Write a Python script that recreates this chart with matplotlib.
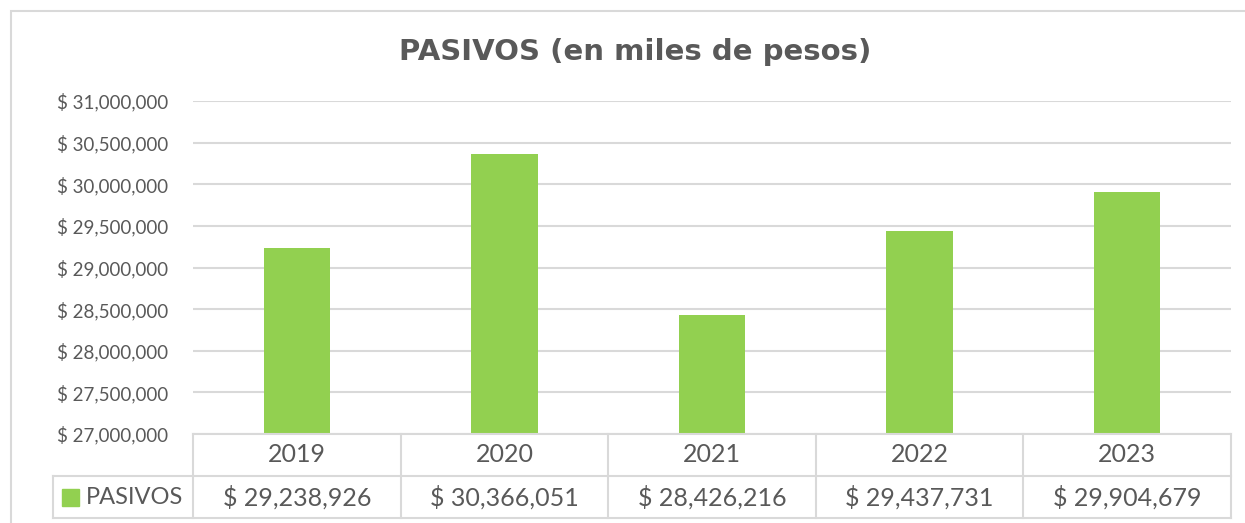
import matplotlib
matplotlib.use("Agg")
import matplotlib.pyplot as plt
from matplotlib.patches import Rectangle
from matplotlib.lines import Line2D

years = ["2019", "2020", "2021", "2022", "2023"]
pasivos = [29238926, 30366051, 28426216, 29437731, 29904679]
series_name = "PASIVOS"
title = "PASIVOS (en miles de pesos)"

GREEN = "#92D050"
TEXT = "#595959"
GRID = "#D9D9D9"
W, H = 1245, 523

plt.rcParams["font.family"] = ["Lato", "DejaVu Sans"]

fig = plt.figure(figsize=(W / 100, H / 100), dpi=100)

def fx(px):
    return px / W

def fy(py):
    return 1 - py / H

# outer chart frame (only top/left visible in the screenshot)
fig.patches.append(Rectangle((fx(11), fy(530)), fx(1260) - fx(11), fy(11) - fy(530),
                             transform=fig.transFigure, fill=False, edgecolor=GRID,
                             linewidth=1.5))

left, right, top, bottom = 193, 1231, 101, 434
ax = fig.add_axes([fx(left), fy(bottom), fx(right) - fx(left), fy(top) - fy(bottom)])
x = list(range(len(years)))
ax.bar(x, pasivos, width=0.32, color=GREEN, zorder=3)
ax.set_xlim(-0.5, len(years) - 0.5)
ax.set_ylim(27000000, 31000000)
ax.set_yticks(range(27000000, 31000001, 500000))
ax.yaxis.set_major_formatter(matplotlib.ticker.FuncFormatter(lambda v, p: f"$ {v:,.0f}"))
ax.grid(axis="y", color=GRID, linewidth=1.5, zorder=0)
ax.set_xticks([])
for s in ax.spines.values():
    s.set_visible(False)
ax.tick_params(axis="y", length=0, pad=18, labelsize=13.5, labelcolor=TEXT)

fig.text(fx(635), fy(52), title, ha="center", va="center", fontsize=21,
         fontweight="bold", color=TEXT, family="DejaVu Sans")

# data table under the plot
tbl_left, tbl_bottom = 53, 518
unit = (right - left) / len(years)
lw_units = (left - tbl_left) / unit
tab = fig.add_axes([fx(tbl_left), fy(tbl_bottom), fx(right) - fx(tbl_left),
                    fy(bottom) - fy(tbl_bottom)])
tab.set_xlim(-0.5 - lw_units, len(years) - 0.5)
tab.set_ylim(0, 2)
tab.axis("off")

def seg(x0, x1, y0, y1):
    tab.add_line(Line2D([x0, x1], [y0, y1], color=GRID, linewidth=1.5, clip_on=False))

n = len(years)
seg(-0.5, n - 0.5, 2, 2)
seg(-0.5 - lw_units, n - 0.5, 1, 1)
seg(-0.5 - lw_units, n - 0.5, 0, 0)
seg(-0.5 - lw_units, -0.5 - lw_units, 0, 1)
for i in range(n + 1):
    seg(i - 0.5, i - 0.5, 0, 2)

for i, (yr, v) in enumerate(zip(years, pasivos)):
    tab.text(i, 1.5, yr, ha="center", va="center", fontsize=18, color=TEXT)
    tab.text(i, 0.5, f"$ {v:,.0f}", ha="center", va="center", fontsize=18, color=TEXT)

# legend key in the table
x0 = -0.5 - lw_units
tab.add_patch(Rectangle((x0 + 9 / unit, 0.5 - 8.5 / 42), 17 / unit, 17 / 42, color=GREEN))
tab.text(x0 + 33 / unit, 0.5, series_name, ha="left", va="center", fontsize=17,
         color=TEXT)

fig.savefig("out.png", dpi=100)
